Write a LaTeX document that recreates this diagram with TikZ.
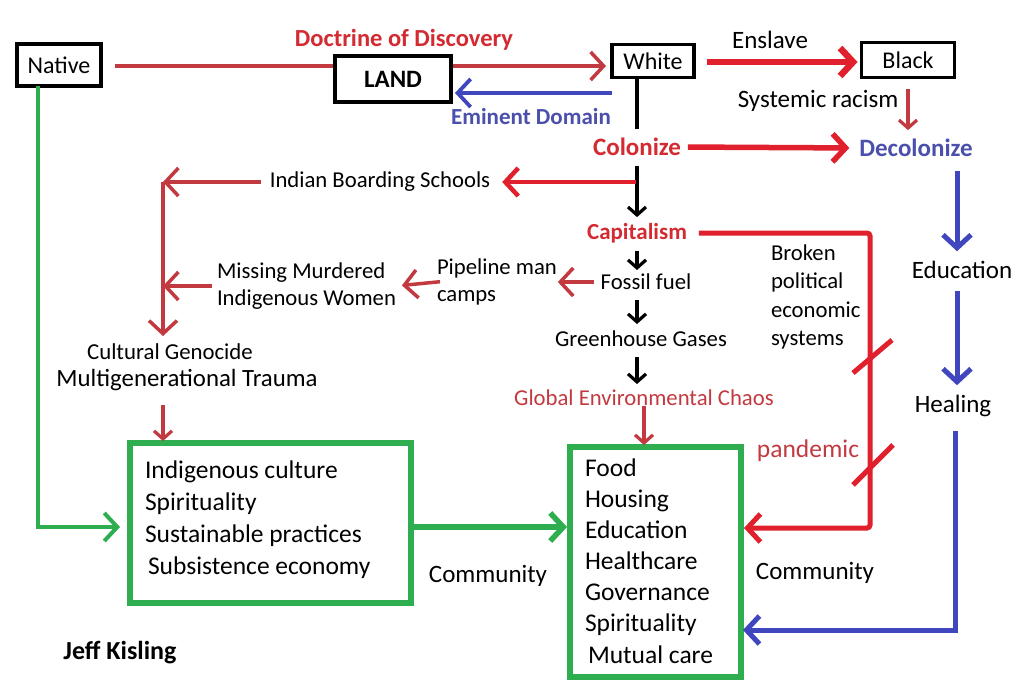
\documentclass[tikz,border=0pt]{standalone}
\usepackage{fontspec}
\setmainfont{Carlito}
\usetikzlibrary{arrows.meta}
\definecolor{myred}{HTML}{E0202C}
\definecolor{txtred}{HTML}{D42A32}
\definecolor{dullred}{HTML}{C23A40}
\definecolor{myblue}{HTML}{4046BE}
\definecolor{txtblue}{HTML}{4A50AC}
\definecolor{mygreen}{HTML}{2EAE4E}
\newcommand{\fs}[1]{\fontsize{#1}{#1}\selectfont}
\tikzset{
  every node/.style={inner sep=0pt, outer sep=0pt},
  blkbox/.style={draw=black, line width=3.5pt, fill=white, font=\fs{24}},
  gbox/.style={draw=mygreen, line width=6pt},
  tipA/.style={-{Straight Barb[length=13pt,width=28pt]}},
  tipB/.style={-{Straight Barb[length=8pt,width=18pt]}},
  redthick/.style={draw=myred, line width=5.5pt, tipA},
  redmid/.style={draw=myred, line width=4.5pt, tipA},
  redthin/.style={draw=dullred, line width=3.5pt, tipA},
  redsmall/.style={draw=dullred, line width=3.2pt, tipB},
  bluearr/.style={draw=myblue, line width=5pt, tipA},
  greenarr/.style={draw=mygreen, line width=5pt, tipA},
  blackarr/.style={draw=black, line width=3.2pt, tipB},
  txt/.style={font=\fs{22.7}},
  bigtxt/.style={font=\fs{25}},
}
\begin{document}
\begin{tikzpicture}[x=1pt,y=-1pt]
\useasboundingbox[fill=white] (0,0) rectangle (1024,697);

% top boxes
\node[blkbox, minimum width=84, minimum height=42] (native) at (59,65) {Native};
\node[blkbox, minimum width=82, minimum height=33] (white) at (653,61) {White};
\node[blkbox, minimum width=93, minimum height=35] (black) at (908,60) {Black};

\draw[redthin, shorten <=14pt, shorten >=6pt] ([yshift=-1pt]native.east) -- ([yshift=-5pt]white.west);
\node[blkbox, minimum width=116, minimum height=46, font=\bfseries\fs{25}] (land) at (393,79) {LAND};

\node[font=\bfseries\fs{24.5}, text=txtred] (doc) at (404,40) {Doctrine of Discovery};

\coordinate (edstart) at (612,93);
\draw[bluearr, line width=3.8pt, shorten >=4pt] (edstart) -- (edstart -| land.east);
\node[font=\bfseries\fs{23}, text=txtblue] (emd) at (531,117) {Eminent Domain};

\node[font=\bfseries\fs{25}, text=txtred] (colonize) at (637,147) {Colonize};
\node[font=\bfseries\fs{25}, text=txtblue] (decol) at (916,148) {Decolonize};
\draw[black, line width=3.5pt, shorten >=9pt] (colonize.north |- white.south) -- (colonize.north);

\node[bigtxt] (enslave) at (770,40) {Enslave};
\draw[redthick, line width=6.5pt, shorten <=13pt, shorten >=4pt] ([yshift=-1pt]white.east) -- ([yshift=-2pt]black.west);
\node[bigtxt] (sysrac) at (818,101) {Systemic racism};
\draw[redsmall, shorten <=11pt, shorten >=9pt] (black.south) -- (black.south |- decol.north);
\draw[redthick, shorten <=7pt, shorten >=10pt] (colonize.east) -- (decol.west);

\node[font=\bfseries\fs{23}, text=txtred] (capital) at (637,233) {Capitalism};
\draw[blackarr, shorten <=10pt, shorten >=6pt] (colonize.south) -- (colonize.south |- capital.north);

\coordinate (ibj) at (636,182);
\node[txt] (ibs) at (380,182) {Indian Boarding Schools};
\draw[redmid, shorten >=12pt] (ibj) -- (ibs.east);
\coordinate (lcorner) at (163,182);
\node[font=\fs{22.8}] (cg) at (170,352) {Cultural Genocide};
\node[font=\fs{24.8}] (mgt) at (187,380) {Multigenerational Trauma};
\draw[redthin, shorten <=9pt] (ibs.west) -- (lcorner);
\draw[redthin, shorten >=8pt] (lcorner) -- (lcorner |- cg.north);

\node[txt, align=left, anchor=west] (mmiw) at (217,286) {Missing Murdered\\[5pt]Indigenous Women};
\draw[redthin] ([xshift=-5pt]mmiw.west) -- (lcorner |- mmiw.west);

\node[txt, align=left, anchor=west] (pipe) at (437,282) {Pipeline man\\[5pt]camps};
\draw[redthin, shorten <=-3pt, shorten >=6pt] (pipe.west) -- (mmiw.east);

\node[txt] (fossil) at (646,282) {Fossil fuel};
\draw[redthin, shorten <=7pt, shorten >=1pt] (fossil.west) -- (pipe.east);
\draw[blackarr, shorten <=8pt, shorten >=4pt] (capital.south) -- (capital.south |- fossil.north);

\node[txt] (ghg) at (641,339) {Greenhouse Gases};
\draw[blackarr, shorten <=10pt, shorten >=7pt] (capital.south |- fossil.south) -- (capital.south |- ghg.north);
\node[txt, text=dullred] (gec) at (644,398) {Global Environmental Chaos};
\draw[blackarr, shorten <=10pt, shorten >=6pt] (capital.south |- ghg.south) -- (capital.south |- gec.north);

% boxes
\node[gbox, minimum width=281, minimum height=160] (lbox) at (270.5,523) {};
\node[gbox, minimum width=171, minimum height=230] (rbox) at (655.5,562) {};
\node[font=\fs{25.5}, align=left, anchor=west] (ltext) at (145,520) {Indigenous culture\\[6.4pt]Spirituality\\[6.4pt]Sustainable practices\\[6.4pt]\hspace{3pt}Subsistence economy};
\node[font=\fs{25.5}, align=left, anchor=west] (rtext) at (585,561) {Food\\[5.6pt]Housing\\[5.6pt]Education\\[5.6pt]Healthcare\\[5.6pt]Governance\\[5.6pt]Spirituality\\[5.6pt]\hspace{3pt}Mutual care};

\draw[redsmall, shorten >=2pt] (gec.south) -- (gec.south |- rbox.north);
\draw[redsmall, shorten <=14pt, shorten >=2pt] (lcorner |- mgt.south) -- (lcorner |- lbox.north);

% capitalism -> right box
\coordinate (rcorner) at (870,528);
\draw[redmid, line width=5pt, rounded corners=3pt, shorten <=12pt, shorten >=3pt] (capital.east) -| (rcorner) -- (rcorner -| rbox.east);
\draw[myred, line width=5pt] (853,373) -- (892,340);
\draw[myred, line width=5pt] (853,485) -- (893,445);
\node[txt, align=left, anchor=west] (broken) at (771,297) {Broken\\[5.5pt]political\\[5.5pt]economic\\[5.5pt]systems};
\node[font=\fs{25.5}, text=dullred] (pand) at (808,451) {pandemic};

% blue right column
\node[bigtxt] (edu) at (962,270) {Education};
\node[bigtxt] (heal) at (953,406) {Healing};
\coordinate (bx) at (957,0);
\draw[bluearr, shorten <=14pt, shorten >=10pt] (bx |- decol.south) -- (bx |- edu.north);
\draw[bluearr, shorten <=12pt, shorten >=10pt] (bx |- edu.south) -- (bx |- heal.north);
\coordinate (bcorner) at (955,630);
\draw[bluearr, shorten <=14pt, shorten >=2pt] (bcorner |- heal.south) -- (bcorner) -- (bcorner -| rbox.east);

% green
\coordinate (gcorner) at (38,527);
\draw[greenarr, line width=4pt, shorten >=10pt] (gcorner |- native.south) -- (gcorner) -- (gcorner -| lbox.west);
\draw[greenarr, line width=5.5pt, shorten <=3pt, shorten >=3pt] (gcorner -| lbox.east) -- (gcorner -| rbox.west);

\node[bigtxt] (comm1) at (488,576) {Community};
\node[bigtxt] (comm2) at (815,573) {Community};
\node[font=\bfseries\fs{26}] (jeff) at (120,653) {Jeff Kisling};
\end{tikzpicture}
\end{document}
